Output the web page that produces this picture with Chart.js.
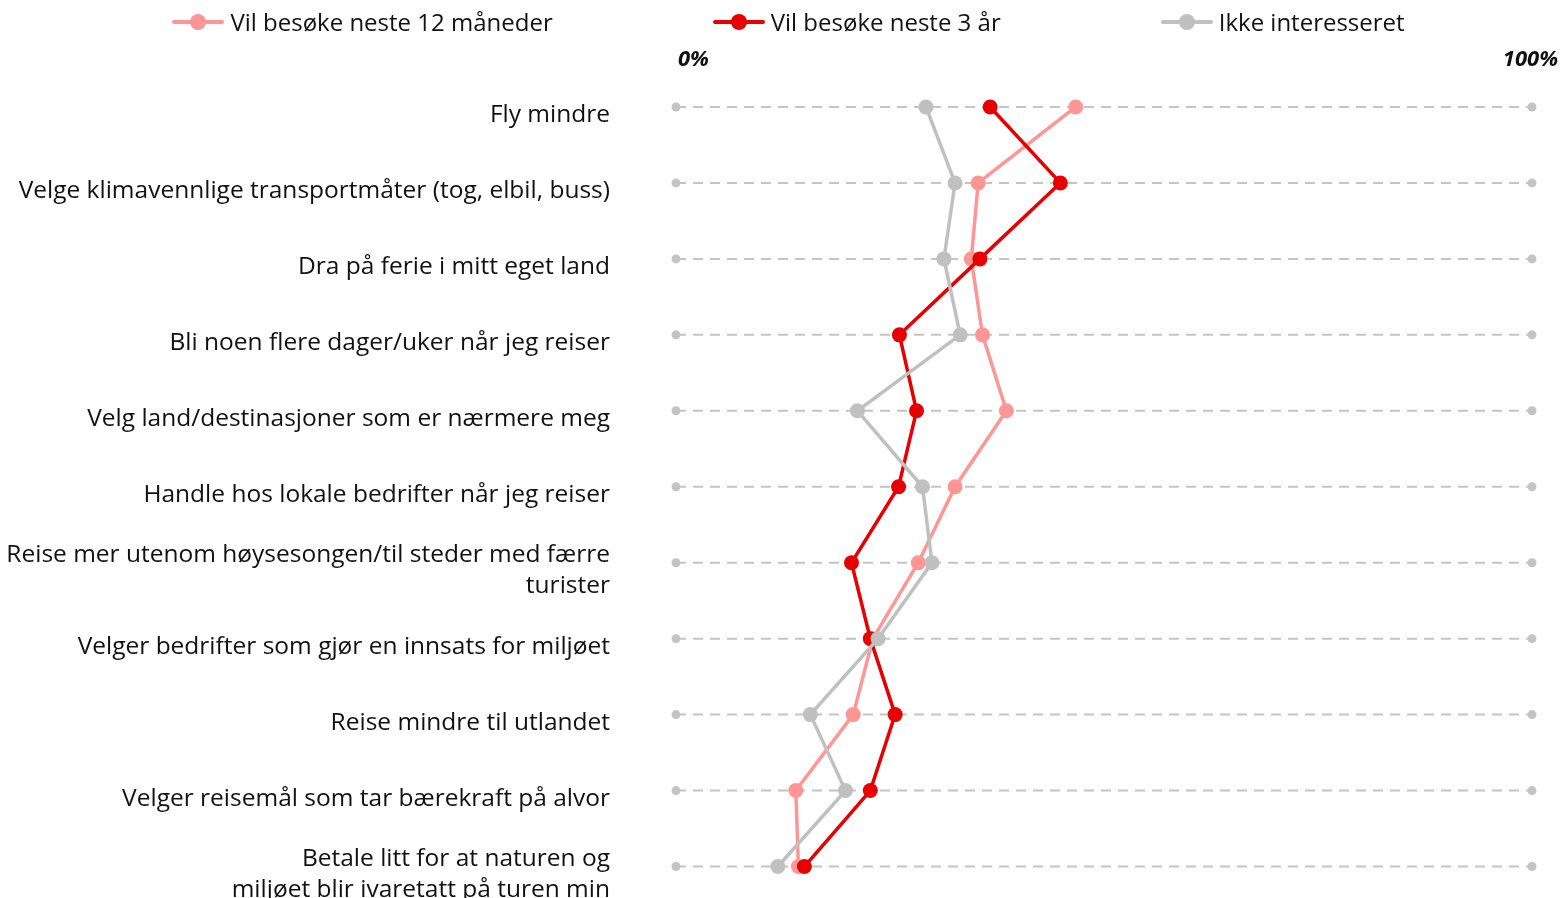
<!DOCTYPE html>
<html>
<head>
<meta charset="utf-8">
<script src="https://cdn.jsdelivr.net/npm/chart.js@4"></script>
<style>
  html, body { margin: 0; padding: 0; background: #fff; overflow: hidden; }
  #wrap { position: relative; width: 1563px; height: 912px; }
  #legend { position: absolute; left: 0; top: 0; width: 1563px; height: 43px; display: flex;
            justify-content: center; align-items: center; gap: 160px; padding-left: 14px; box-sizing: border-box;
            font-family: "Open Sans", sans-serif; font-size: 24px; color: #111; }
  .item { display: flex; align-items: center; white-space: nowrap; }
  .sym { position: relative; width: 52px; height: 4px; margin-right: 6px; border-radius: 2px; }
  .sym i { position: absolute; left: 18px; top: -6px; width: 16px; height: 16px; border-radius: 50%; }
  canvas { position: absolute; left: 0; top: 0; }
</style>
</head>
<body>
<div id="wrap">
  <canvas id="c" width="1563" height="912"></canvas>
  <div id="legend"></div>
</div>
<script>
const categories = [
  'Fly mindre',
  'Velge klimavennlige transportmåter (tog, elbil, buss)',
  'Dra på ferie i mitt eget land',
  'Bli noen flere dager/uker når jeg reiser',
  'Velg land/destinasjoner som er nærmere meg',
  'Handle hos lokale bedrifter når jeg reiser',
  ['Reise mer utenom høysesongen/til steder med færre', 'turister'],
  'Velger bedrifter som gjør en innsats for miljøet',
  'Reise mindre til utlandet',
  'Velger reisemål som tar bærekraft på alvor',
  ['Betale litt for at naturen og', 'miljøet blir ivaretatt på turen min']
];
const seriesNames = ['Vil besøke neste 12 måneder', 'Vil besøke neste 3 år', 'Ikke interesseret'];
const visit12 = [46.7, 35.3, 34.5, 35.8, 38.6, 32.6, 28.3, 23.0, 20.7, 14.0, 14.3];
const visit3 = [36.7, 44.9, 35.5, 26.1, 28.1, 26.0, 20.5, 22.7, 25.6, 22.7, 15.0];
const notInterested = [29.2, 32.6, 31.3, 33.2, 21.2, 28.8, 29.9, 23.6, 15.7, 19.8, 11.9];
const tickValues = [0, 100];
const tickLabels = ['0%', '100%'];

const colors = ['#FF9696', '#E80000', '#C0C0C0'];
const FONT = '"Open Sans", sans-serif';

// HTML legend
const legendEl = document.getElementById('legend');
seriesNames.forEach((name, i) => {
  const it = document.createElement('div');
  it.className = 'item';
  const s = document.createElement('span');
  s.className = 'sym';
  s.style.background = colors[i];
  const d = document.createElement('i');
  d.style.background = colors[i];
  s.appendChild(d);
  it.appendChild(s);
  const t = document.createElement('span');
  t.textContent = name;
  it.appendChild(t);
  legendEl.appendChild(it);
});

const rowLines = {
  id: 'rowLines',
  beforeDatasetsDraw(chart) {
    const { ctx, scales: { x, y } } = chart;
    const x0 = x.getPixelForValue(tickValues[0]);
    const x1 = x.getPixelForValue(tickValues[1]);
    ctx.save();
    categories.forEach((c, i) => {
      const py = y.getPixelForValue(i);
      ctx.strokeStyle = '#C4C4C4';
      ctx.lineWidth = 2;
      ctx.setLineDash([10, 7]);
      ctx.beginPath();
      ctx.moveTo(x0, py);
      ctx.lineTo(x1, py);
      ctx.stroke();
      ctx.setLineDash([]);
      ctx.fillStyle = '#C4C4C4';
      [x0, x1].forEach(px => {
        ctx.beginPath();
        ctx.arc(px, py, 4.5, 0, Math.PI * 2);
        ctx.fill();
      });
    });
    ctx.restore();
  },
  afterDraw(chart) {
    const { ctx, scales: { x } } = chart;
    ctx.save();
    ctx.font = 'italic bold 22px ' + FONT;
    ctx.fillStyle = '#111';
    ctx.textBaseline = 'middle';
    ctx.textAlign = 'left';
    ctx.fillText(tickLabels[0], x.getPixelForValue(tickValues[0]) + 2, 60);
    ctx.textAlign = 'right';
    ctx.fillText(tickLabels[1], x.getPixelForValue(tickValues[1]) + 26, 60);
    ctx.restore();
  }
};

const mk = (i, data, order) => ({
  label: seriesNames[i],
  data: data,
  borderColor: colors[i],
  backgroundColor: colors[i],
  pointBackgroundColor: colors[i],
  pointBorderWidth: 0,
  pointRadius: 7.5,
  pointHoverRadius: 7.5,
  borderWidth: 3.5,
  tension: 0,
  order: order
});

new Chart(document.getElementById('c'), {
  type: 'line',
  data: {
    labels: categories,
    datasets: [mk(0, visit12, 2), mk(1, visit3, 1), mk(2, notInterested, 0)]
  },
  options: {
    indexAxis: 'y',
    responsive: false,
    animation: false,
    layout: { padding: { left: 0, right: 31, top: 69, bottom: 0 } },
    plugins: { legend: { display: false }, tooltip: { enabled: false } },
    scales: {
      x: { type: 'linear', min: 0, max: 100, display: false },
      y: {
        type: 'category',
        offset: true,
        grid: { display: false, drawTicks: false },
        border: { display: false },
        ticks: {
          padding: 66,
          labelOffset: 8,
          color: '#111',
          font: { family: FONT, size: 24.5, lineHeight: 1.28 }
        },
        afterFit(scale) {
          scale.width = 676;
          scale.paddingTop = 0;
          scale.paddingBottom = 0;
        }
      }
    }
  },
  plugins: [rowLines]
});
</script>
</body>
</html>
